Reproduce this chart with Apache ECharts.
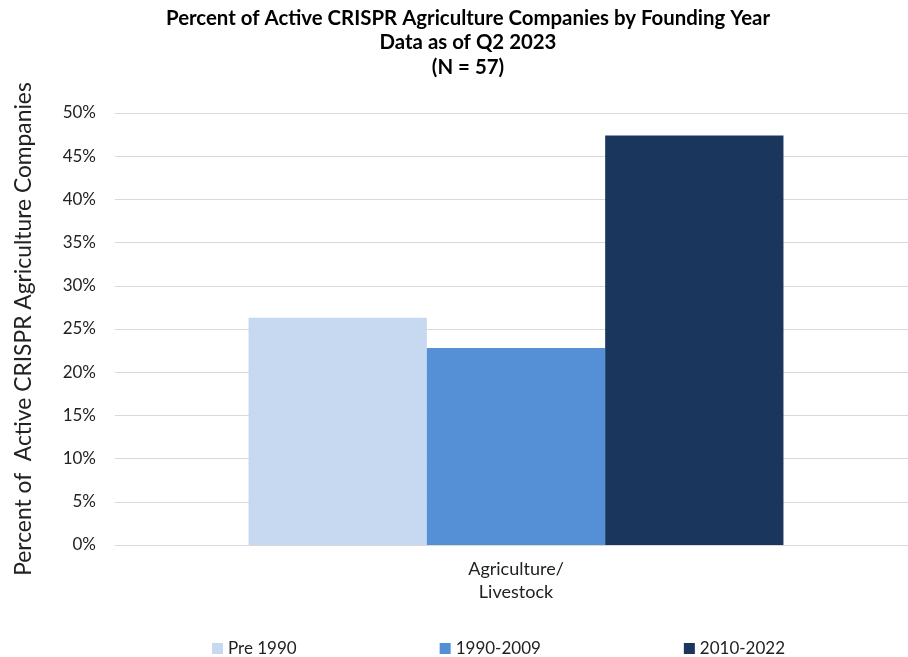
<!DOCTYPE html>
<html>
<head>
<meta charset="utf-8">
<script src="https://cdn.jsdelivr.net/npm/echarts@6/dist/echarts.min.js"></script>
<style>
  html, body { margin: 0; padding: 0; background: #fff; }
  #main { width: 908px; height: 657px; }
</style>
</head>
<body>
<div id="main"></div>
<script>
// data
var categories = ['Agriculture/\nLivestock'];
var seriesNames = ['Pre 1990', '1990-2009', '2010-2022'];
var pre1990 = [26.3];
var mid = [22.8];
var recent = [47.4];
var colors = ['#C6D9F1', '#558FD6', '#1A365D'];

var chartDom = document.getElementById('main');
var myChart = echarts.init(chartDom);
var font = 'Lato, "Open Sans", sans-serif';

var option = {
  color: colors,
  animation: false,
  title: {
    text: 'Percent of Active CRISPR Agriculture Companies by Founding Year\nData as of Q2 2023\n(N = 57)',
    left: 463,
    top: 1,
    textAlign: 'center',
    textStyle: {
      fontFamily: font,
      fontSize: 20.4,
      fontWeight: 'bold',
      color: '#000',
      lineHeight: 24.5
    }
  },
  legend: {
    data: seriesNames,
    left: 207,
    top: 635,
    itemWidth: 11,
    itemHeight: 11,
    itemGap: 143,
    icon: 'rect',
    textStyle: { fontFamily: font, fontSize: 17, color: '#222' }
  },
  grid: {
    left: 115,
    top: 113,
    width: 802,
    height: 432,
    containLabel: false,
    outerBoundsMode: 'none'
  },
  xAxis: {
    type: 'category',
    data: categories,
    axisLine: { show: true, lineStyle: { color: '#d9d9d9', width: 1 } },
    axisTick: { show: false },
    axisLabel: {
      fontFamily: font,
      fontSize: 18,
      color: '#222',
      lineHeight: 23,
      margin: 13
    }
  },
  yAxis: {
    type: 'value',
    min: 0,
    max: 50,
    interval: 5,
    name: 'Percent of  Active CRISPR Agriculture Companies',
    nameLocation: 'middle',
    nameGap: 80,
    nameTextStyle: { fontFamily: font, fontSize: 22.8, color: '#222' },
    axisLine: { show: false },
    axisTick: { show: false },
    axisLabel: {
      formatter: '{value}%',
      fontFamily: font,
      fontSize: 17,
      color: '#222',
      margin: 19
    },
    splitLine: { lineStyle: { color: '#d9d9d9', width: 1 } }
  },
  series: [
    { name: seriesNames[0], type: 'bar', data: pre1990, barGap: '0%', barCategoryGap: '33.3%' },
    { name: seriesNames[1], type: 'bar', data: mid, barGap: '0%', barCategoryGap: '33.3%' },
    { name: seriesNames[2], type: 'bar', data: recent, barGap: '0%', barCategoryGap: '33.3%' }
  ]
};

option && myChart.setOption(option);
</script>
</body>
</html>
